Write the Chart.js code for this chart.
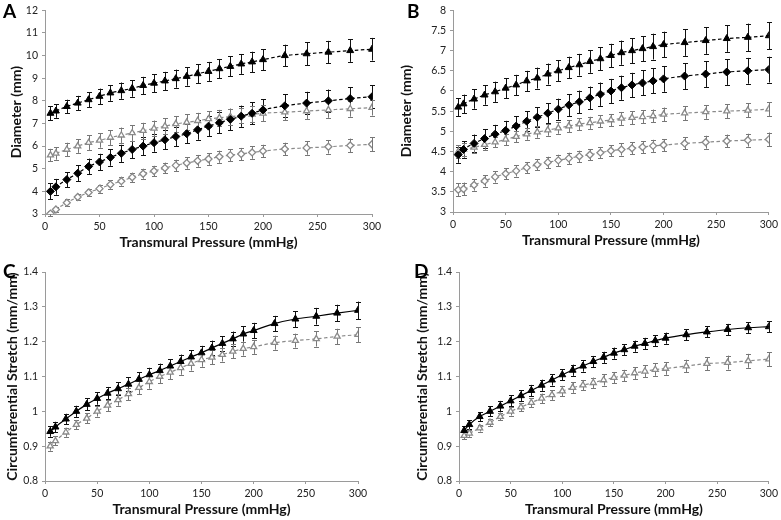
<!DOCTYPE html>
<html>
<head>
<meta charset="utf-8">
<script src="https://cdn.jsdelivr.net/npm/chart.js@4.4.1/dist/chart.umd.min.js"></script>
<style>
  body { margin: 0; background: #fff; }
  #wrap { position: relative; width: 781px; height: 520px; }
  .panel { position: absolute; }
  .letter { position: absolute; font-family: Lato, sans-serif; font-weight: bold; font-size: 19px; color: #000; }
</style>
</head>
<body>
<div id="wrap">
  <div class="panel" style="left:0;top:0;width:390px;height:260px"><canvas id="cA"></canvas></div>
  <div class="panel" style="left:390px;top:0;width:391px;height:260px"><canvas id="cB"></canvas></div>
  <div class="panel" style="left:0;top:260px;width:390px;height:260px"><canvas id="cC"></canvas></div>
  <div class="panel" style="left:390px;top:260px;width:391px;height:260px"><canvas id="cD"></canvas></div>
  <div class="letter" style="left:3px;top:-1px">A</div>
  <div class="letter" style="left:407px;top:-1px">B</div>
  <div class="letter" style="left:3px;top:259px">C</div>
  <div class="letter" style="left:414px;top:259px">D</div>
</div>
<script>
// x values (mmHg)
const pressure = [5, 10, 20, 30, 40, 50, 60, 70, 80, 90, 100, 110, 120, 130, 140, 150, 160, 170, 180, 190, 200, 220, 240, 260, 280, 300];

// Panel A - diameter (mm)
const aBlackTri = [7.45, 7.55, 7.75, 7.9, 8.05, 8.2, 8.35, 8.45, 8.55, 8.68, 8.78, 8.88, 8.98, 9.08, 9.2, 9.3, 9.42, 9.52, 9.63, 9.72, 9.82, 10.0, 10.08, 10.15, 10.22, 10.28];
const aBlackTriErr = [0.3, 0.3, 0.3, 0.32, 0.33, 0.34, 0.35, 0.36, 0.37, 0.38, 0.39, 0.4, 0.4, 0.41, 0.42, 0.42, 0.43, 0.44, 0.44, 0.45, 0.46, 0.48, 0.5, 0.5, 0.5, 0.5];
const aBlackDia = [4.0, 4.2, 4.52, 4.8, 5.1, 5.3, 5.5, 5.68, 5.85, 6.0, 6.15, 6.28, 6.42, 6.55, 6.72, 6.88, 7.03, 7.18, 7.32, 7.45, 7.6, 7.78, 7.9, 8.0, 8.1, 8.18];
const aBlackDiaErr = [0.35, 0.35, 0.33, 0.35, 0.35, 0.36, 0.37, 0.38, 0.39, 0.4, 0.4, 0.41, 0.42, 0.43, 0.44, 0.45, 0.46, 0.47, 0.47, 0.48, 0.48, 0.5, 0.5, 0.5, 0.5, 0.5];
const aGreyTri = [5.6, 5.68, 5.85, 6.0, 6.15, 6.25, 6.38, 6.48, 6.58, 6.68, 6.78, 6.88, 6.98, 7.05, 7.12, 7.2, 7.25, 7.3, 7.35, 7.4, 7.45, 7.5, 7.55, 7.6, 7.65, 7.7];
const aGreyTriErr = [0.28, 0.28, 0.3, 0.3, 0.32, 0.32, 0.33, 0.34, 0.35, 0.35, 0.35, 0.35, 0.35, 0.35, 0.35, 0.35, 0.35, 0.35, 0.35, 0.35, 0.35, 0.35, 0.35, 0.35, 0.35, 0.35];
const aGreyDia = [3.02, 3.2, 3.5, 3.75, 3.95, 4.12, 4.3, 4.45, 4.62, 4.78, 4.9, 5.03, 5.15, 5.25, 5.35, 5.43, 5.53, 5.6, 5.65, 5.72, 5.78, 5.87, 5.92, 5.97, 6.03, 6.08];
const aGreyDiaErr = [0.12, 0.13, 0.15, 0.15, 0.17, 0.18, 0.19, 0.2, 0.21, 0.22, 0.23, 0.24, 0.25, 0.25, 0.26, 0.26, 0.27, 0.27, 0.27, 0.28, 0.28, 0.28, 0.3, 0.3, 0.3, 0.3];

// Panel B - diameter (mm)
const bBlackTri = [5.6, 5.68, 5.8, 5.9, 5.98, 6.07, 6.15, 6.25, 6.32, 6.42, 6.5, 6.58, 6.65, 6.73, 6.8, 6.88, 6.95, 7.0, 7.05, 7.1, 7.15, 7.2, 7.25, 7.3, 7.33, 7.37];
const bBlackTriErr = [0.22, 0.23, 0.24, 0.24, 0.25, 0.25, 0.25, 0.25, 0.26, 0.26, 0.26, 0.27, 0.27, 0.28, 0.29, 0.29, 0.3, 0.31, 0.31, 0.32, 0.32, 0.33, 0.33, 0.33, 0.34, 0.33];
const bBlackDia = [4.42, 4.55, 4.7, 4.82, 4.93, 5.02, 5.13, 5.25, 5.35, 5.45, 5.55, 5.65, 5.73, 5.83, 5.92, 6.0, 6.08, 6.15, 6.2, 6.25, 6.3, 6.37, 6.42, 6.47, 6.5, 6.53];
const bBlackDiaErr = [0.2, 0.2, 0.22, 0.23, 0.23, 0.24, 0.24, 0.25, 0.25, 0.25, 0.26, 0.27, 0.28, 0.28, 0.29, 0.3, 0.3, 0.3, 0.31, 0.31, 0.32, 0.32, 0.32, 0.32, 0.32, 0.32];
const bGreyTri = [4.5, 4.55, 4.6, 4.67, 4.73, 4.8, 4.87, 4.93, 4.98, 5.03, 5.08, 5.13, 5.18, 5.21, 5.25, 5.28, 5.32, 5.34, 5.36, 5.38, 5.42, 5.45, 5.48, 5.5, 5.52, 5.55];
const bGreyTriErr = [0.15, 0.15, 0.14, 0.13, 0.13, 0.14, 0.14, 0.14, 0.14, 0.14, 0.14, 0.15, 0.15, 0.15, 0.15, 0.15, 0.16, 0.16, 0.16, 0.16, 0.17, 0.17, 0.17, 0.17, 0.17, 0.17];
const bGreyDia = [3.55, 3.57, 3.67, 3.77, 3.87, 3.95, 4.02, 4.1, 4.17, 4.23, 4.28, 4.33, 4.38, 4.42, 4.47, 4.52, 4.55, 4.58, 4.61, 4.64, 4.66, 4.7, 4.73, 4.76, 4.78, 4.8];
const bGreyDiaErr = [0.16, 0.16, 0.14, 0.14, 0.14, 0.14, 0.14, 0.14, 0.14, 0.14, 0.14, 0.14, 0.14, 0.14, 0.14, 0.14, 0.15, 0.15, 0.15, 0.15, 0.15, 0.15, 0.16, 0.16, 0.16, 0.17];

// Panel C - circumferential stretch (mm/mm)
const cBlack = [0.942, 0.955, 0.978, 1.0, 1.02, 1.037, 1.052, 1.065, 1.078, 1.092, 1.105, 1.117, 1.13, 1.143, 1.156, 1.168, 1.182, 1.195, 1.208, 1.222, 1.232, 1.252, 1.265, 1.273, 1.282, 1.29];
const cBlackErr = [0.015, 0.015, 0.015, 0.016, 0.017, 0.018, 0.018, 0.019, 0.02, 0.02, 0.02, 0.02, 0.02, 0.02, 0.02, 0.02, 0.021, 0.021, 0.021, 0.022, 0.022, 0.022, 0.023, 0.024, 0.024, 0.025];
const cGrey = [0.9, 0.915, 0.94, 0.962, 0.98, 1.0, 1.017, 1.033, 1.05, 1.068, 1.085, 1.1, 1.112, 1.125, 1.137, 1.148, 1.155, 1.163, 1.172, 1.18, 1.185, 1.197, 1.203, 1.208, 1.215, 1.22];
const cGreyErr = [0.013, 0.013, 0.013, 0.013, 0.014, 0.015, 0.016, 0.017, 0.018, 0.019, 0.02, 0.02, 0.02, 0.02, 0.02, 0.02, 0.02, 0.02, 0.02, 0.02, 0.02, 0.02, 0.02, 0.022, 0.022, 0.022];

// Panel D - circumferential stretch (mm/mm)
const dBlack = [0.945, 0.962, 0.985, 1.0, 1.015, 1.03, 1.045, 1.06, 1.075, 1.09, 1.105, 1.118, 1.13, 1.143, 1.155, 1.167, 1.177, 1.187, 1.195, 1.203, 1.21, 1.22, 1.228, 1.235, 1.24, 1.243];
const dBlackErr = [0.013, 0.013, 0.013, 0.014, 0.015, 0.016, 0.016, 0.016, 0.016, 0.016, 0.016, 0.016, 0.016, 0.016, 0.016, 0.016, 0.016, 0.016, 0.016, 0.016, 0.016, 0.016, 0.016, 0.016, 0.016, 0.016];
const dGrey = [0.93, 0.937, 0.952, 0.968, 0.985, 1.0, 1.012, 1.025, 1.037, 1.047, 1.058, 1.068, 1.075, 1.082, 1.09, 1.097, 1.103, 1.11, 1.115, 1.12, 1.123, 1.13, 1.137, 1.14, 1.145, 1.15];
const dGreyErr = [0.01, 0.01, 0.01, 0.01, 0.011, 0.012, 0.012, 0.013, 0.014, 0.014, 0.015, 0.015, 0.015, 0.015, 0.016, 0.016, 0.016, 0.017, 0.017, 0.018, 0.018, 0.018, 0.019, 0.02, 0.02, 0.02];

const BLACK = '#000';
const GREY = '#8a8a8a';
const AXIS = '#9a9a9a';

// draw error bars under the markers
const errorBars = {
  id: 'errorBars',
  beforeDatasetsDraw(chart) {
    const ctx = chart.ctx;
    const yScale = chart.scales.y;
    chart.data.datasets.forEach((ds, i) => {
      if (!ds.errors) return;
      const meta = chart.getDatasetMeta(i);
      ctx.save();
      ctx.strokeStyle = ds.errColor;
      ctx.lineWidth = 1;
      meta.data.forEach((pt, j) => {
        const v = ds.data[j].y;
        const e = ds.errors[j];
        const top = yScale.getPixelForValue(v + e);
        const bot = yScale.getPixelForValue(v - e);
        const x = Math.round(pt.x) + 0.5;
        ctx.beginPath();
        ctx.moveTo(x, top); ctx.lineTo(x, bot);
        ctx.moveTo(x - 2.5, Math.round(top) + 0.5); ctx.lineTo(x + 2.5, Math.round(top) + 0.5);
        ctx.moveTo(x - 2.5, Math.round(bot) + 0.5); ctx.lineTo(x + 2.5, Math.round(bot) + 0.5);
        ctx.stroke();
      });
      ctx.restore();
    });
  }
};

function series(vals, errs, kind, dashed) {
  const black = kind === 'blackTri' || kind === 'blackDia';
  const col = black ? BLACK : GREY;
  return {
    data: pressure.map((x, i) => ({ x: x, y: vals[i] })),
    errors: errs,
    errColor: black ? '#111' : '#777',
    borderColor: col,
    borderWidth: 1.2,
    borderDash: dashed ? [3.5, 2.5] : [],
    pointStyle: (kind === 'blackTri' || kind === 'greyTri') ? 'triangle' : 'rectRot',
    pointRadius: black ? 4 : 3.5,
    pointBackgroundColor: black ? BLACK : '#fff',
    pointBorderColor: col,
    pointBorderWidth: black ? 1 : 1.3,
    cubicInterpolationMode: 'monotone',
    fill: false
  };
}

const tickFont = { family: 'Lato, sans-serif', size: 10.5 };
const titleFont = { family: 'Lato, sans-serif', size: 14, weight: 'bold' };
const trimZeros = v => String(Number(v.toFixed(2)));

function makeChart(id, datasets, yMin, yMax, yStep, yLabel, yWidth, xHeight, pad) {
  new Chart(document.getElementById(id), {
    type: 'line',
    data: { datasets: datasets },
    options: {
      responsive: true,
      maintainAspectRatio: false,
      animation: false,
      events: [],
      layout: { padding: pad },
      plugins: { legend: { display: false }, tooltip: { enabled: false } },
      scales: {
        x: {
          type: 'linear', min: 0, max: 300,
          ticks: { stepSize: 50, color: '#222', font: tickFont, padding: 3, maxRotation: 0 },
          grid: { drawOnChartArea: false, tickLength: 3, color: AXIS },
          border: { color: AXIS },
          title: { display: true, text: 'Transmural Pressure (mmHg)', color: '#111', font: titleFont, padding: { top: 2, bottom: 0 } },
          afterFit(s) { s.height = xHeight; }
        },
        y: {
          min: yMin, max: yMax,
          ticks: { stepSize: yStep, color: '#222', font: tickFont, padding: 4, callback: trimZeros },
          grid: { drawOnChartArea: false, tickLength: 3, color: AXIS },
          border: { color: AXIS },
          title: { display: true, text: yLabel, color: '#111', font: titleFont, padding: 0 },
          afterFit(s) { s.width = yWidth; }
        }
      }
    },
    plugins: [errorBars]
  });
}

makeChart('cA', [
  series(aBlackTri, aBlackTriErr, 'blackTri', true),
  series(aBlackDia, aBlackDiaErr, 'blackDia', true),
  series(aGreyTri, aGreyTriErr, 'greyTri', true),
  series(aGreyDia, aGreyDiaErr, 'greyDia', true)
], 3, 12, 1, 'Diameter (mm)', 37, 37, { left: 8, top: 10, right: 18, bottom: 9 });

makeChart('cB', [
  series(bBlackTri, bBlackTriErr, 'blackTri', true),
  series(bBlackDia, bBlackDiaErr, 'blackDia', true),
  series(bGreyTri, bGreyTriErr, 'greyTri', true),
  series(bGreyDia, bGreyDiaErr, 'greyDia', true)
], 3, 8, 0.5, 'Diameter (mm)', 55, 37, { left: 8, top: 9, right: 11, bottom: 11 });

makeChart('cC', [
  series(cBlack, cBlackErr, 'blackTri', false),
  series(cGrey, cGreyErr, 'greyTri', true)
], 0.8, 1.4, 0.1, 'Circumferential Stretch (mm/mm)', 41, 37, { left: 4, top: 12, right: 32, bottom: 2 });

makeChart('cD', [
  series(dBlack, dBlackErr, 'blackTri', false),
  series(dGrey, dGreyErr, 'greyTri', true)
], 0.8, 1.4, 0.1, 'Circumferential Stretch (mm/mm)', 45, 37, { left: 24, top: 12, right: 9, bottom: 2 });
</script>
</body>
</html>
